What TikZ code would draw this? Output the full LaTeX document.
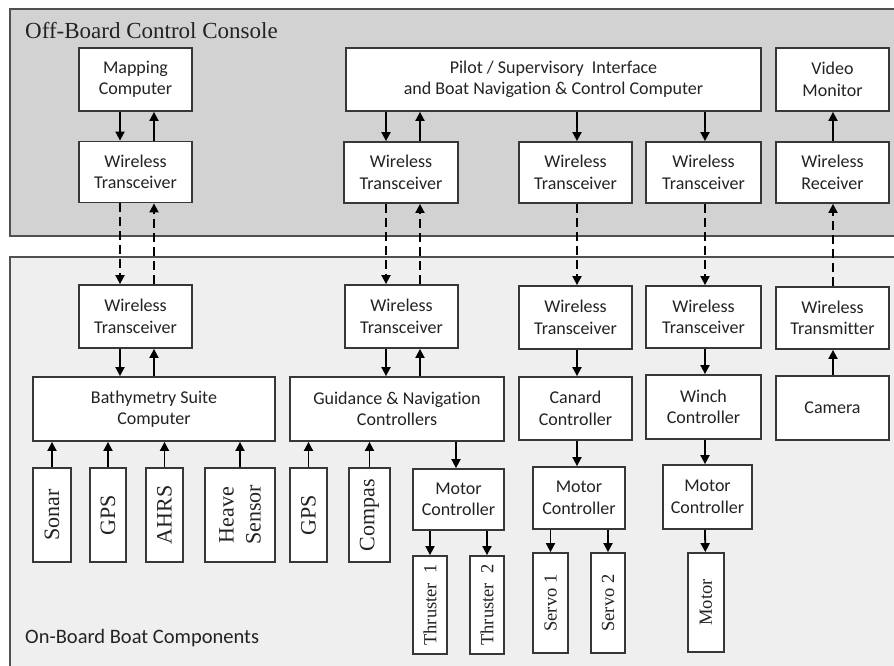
\documentclass[tikz,border=0pt]{standalone}
\usepackage{fontspec}
\setmainfont{Carlito}[Ligatures=CommonOff]
\newfontfamily\serifface{Liberation Serif}
\usetikzlibrary{arrows.meta}
\definecolor{topfill}{RGB}{210,210,210}
\definecolor{botfill}{RGB}{239,239,239}
\definecolor{framec}{RGB}{80,80,80}
\definecolor{boxc}{RGB}{55,55,55}
\definecolor{txtc}{RGB}{35,35,35}
\tikzset{
 box/.style={draw=boxc, line width=1.8pt, fill=white, text=txtc, align=center, inner sep=0pt, font=\fontsize{18}{21.5}\selectfont},
 vbox/.style={draw=boxc, line width=1.8pt, fill=white, text=txtc, align=center, inner sep=0pt, rotate=90, font=\serifface\fontsize{22}{27}\selectfont},
 vboxs/.style={vbox, font=\serifface\fontsize{18.5}{22}\selectfont},
 arr/.style={line width=1.8pt, draw=black, -{Triangle[length=9pt,width=9pt]}},
 darr/.style={arr, dash pattern=on 9pt off 5pt},
 frame/.style={draw=framec, line width=2.2pt},
}
\begin{document}
\begin{tikzpicture}[x=1pt,y=-1pt]
\clip (0,0) rectangle (894,665);
\fill[white] (0,0) rectangle (894,665);
\draw[frame, fill=topfill] (10,9) rectangle (910,236);
\draw[frame, fill=botfill] (10,257) rectangle (910,690);
\node[anchor=base west, inner sep=0pt, text=txtc, font=\serifface\fontsize{23}{27}\selectfont] (ttop) at (25,38) {Off-Board Control Console};
\node[anchor=base west, inner sep=0pt, text=txtc, font=\fontsize{20.5}{24}\selectfont] (tbot) at (25,643) {On-Board Boat Components};

% top row
\node[box, minimum width=113pt, minimum height=63pt] (map) at (135.5,79.5) {Mapping\\Computer};
\node[box, minimum width=113pt, minimum height=61pt] (wt1t) at (135.5,172) {Wireless\\Transceiver};
\node[box, minimum width=415pt, minimum height=63pt] (pilot) at (553.5,79.5) {Pilot / Supervisory\ \ Interface\\and Boat Navigation \& Control Computer};
\node[box, minimum width=114pt, minimum height=61pt] (wt2t) at (401,172.5) {Wireless\\Transceiver};
\node[box, minimum width=113pt, minimum height=61pt] (wt3t) at (575.5,172.5) {Wireless\\Transceiver};
\node[box, minimum width=115pt, minimum height=61pt] (wt4t) at (703.5,172.5) {Wireless\\Transceiver};
\node[box, minimum width=113pt, minimum height=63pt] (video) at (832.5,79.5) {Video\\Monitor};
\node[box, minimum width=113pt, minimum height=61pt] (rx) at (832.5,172.5) {Wireless\\Receiver};

% bottom
\node[box, minimum width=113pt, minimum height=63pt] (wt1b) at (135.5,316.5) {Wireless\\Transceiver};
\node[box, minimum width=113pt, minimum height=63pt] (wt2b) at (401.5,316.5) {Wireless\\Transceiver};
\node[box, minimum width=113pt, minimum height=63pt] (wt3b) at (575.5,317.5) {Wireless\\Transceiver};
\node[box, minimum width=115pt, minimum height=62pt] (wt4b) at (703.5,317) {Wireless\\Transceiver};
\node[box, minimum width=113pt, minimum height=62pt] (tx) at (832.5,318) {Wireless\\Transmitter};
\node[box, minimum width=242pt, minimum height=64pt] (bathy) at (154,409) {Bathymetry Suite\\Computer};
\node[box, minimum width=214pt, minimum height=64pt] (guid) at (397,409) {Guidance \& Navigation\\Controllers};
\node[box, minimum width=113pt, minimum height=63pt] (canard) at (575.5,408.5) {Canard\\Controller};
\node[box, minimum width=115pt, minimum height=64pt] (winch) at (703.5,407) {Winch\\Controller};
\node[box, minimum width=113pt, minimum height=64pt] (camera) at (832.5,408) {Camera};

% sensors
\node[vbox, minimum width=94pt, minimum height=38pt] (sonar) at (52,515) {Sonar};
\node[vbox, minimum width=94pt, minimum height=36pt] (gps1) at (108,515) {GPS};
\node[vbox, minimum width=94pt, minimum height=37pt] (ahrs) at (164.5,515) {AHRS};
\node[vbox, minimum width=94pt, minimum height=70pt] (heave) at (240,515) {Heave\\Sensor};
\node[vbox, minimum width=94pt, minimum height=37pt] (gps2) at (308.5,515) {GPS};
\node[vbox, minimum width=94pt, minimum height=41pt] (compas) at (369.5,515) {Compas};

% motor controllers and actuators
\node[box, minimum width=91pt, minimum height=61pt] (mc1) at (458.5,499.5) {Motor\\Controller};
\node[vboxs, minimum width=98pt, minimum height=34pt] (th1) at (430,605) {Thruster\ \ 1};
\node[vboxs, minimum width=98pt, minimum height=34pt] (th2) at (487,605) {Thruster\ \ 2};
\node[box, minimum width=92pt, minimum height=62pt] (mc2) at (579,498) {Motor\\Controller};
\node[vboxs, minimum width=100pt, minimum height=35pt] (sv1) at (550.5,603) {Servo 1};
\node[vboxs, minimum width=100pt, minimum height=34pt] (sv2) at (608,603) {Servo 2};
\node[box, minimum width=89pt, minimum height=64pt] (mc3) at (707.5,497) {Motor\\Controller};
\node[vboxs, minimum width=99pt, minimum height=36pt] (motor) at (706,602.5) {Motor};

% columns
\coordinate (c120) at (120,0);
\coordinate (c154) at (154,0);
\coordinate (c386) at (386,0);
\coordinate (c420) at (420,0);
\coordinate (c577) at (577,0);
\coordinate (c705) at (705,0);
\coordinate (c833) at (833,0);
\coordinate (c456) at (456,0);

% column 1
\draw[arr] (map.south -| c120) -- (wt1t.north -| c120);
\draw[arr] (wt1t.north -| c154) -- (map.south -| c154);
\draw[darr] (wt1t.south -| c120) -- (wt1b.north -| c120);
\draw[darr] (wt1b.north -| c154) -- (wt1t.south -| c154);
\draw[arr] (wt1b.south -| c120) -- (bathy.north -| c120);
\draw[arr] (bathy.north -| c154) -- (wt1b.south -| c154);
% column 2
\draw[arr] (pilot.south -| c386) -- (wt2t.north -| c386);
\draw[arr] (wt2t.north -| c420) -- (pilot.south -| c420);
\draw[darr] (wt2t.south -| c386) -- (wt2b.north -| c386);
\draw[darr] (wt2b.north -| c420) -- (wt2t.south -| c420);
\draw[arr] (wt2b.south -| c386) -- (guid.north -| c386);
\draw[arr] (guid.north -| c420) -- (wt2b.south -| c420);
% column 3
\draw[arr] (pilot.south -| c577) -- (wt3t.north -| c577);
\draw[darr] (wt3t.south -| c577) -- (wt3b.north -| c577);
\draw[arr] (wt3b.south -| c577) -- (canard.north -| c577);
\draw[arr] (canard.south -| c577) -- (mc2.north -| c577);
% column 4
\draw[arr] (pilot.south -| c705) -- (wt4t.north -| c705);
\draw[darr] (wt4t.south -| c705) -- (wt4b.north -| c705);
\draw[arr] (wt4b.south -| c705) -- (winch.north -| c705);
\draw[arr] (winch.south -| c705) -- (mc3.north -| c705);
\draw[arr] (mc3.south -| c705) -- (motor);
% column 5
\draw[arr] (rx.north -| c833) -- (video.south -| c833);
\draw[darr] (tx.north -| c833) -- (rx.south -| c833);
\draw[arr] (camera.north -| c833) -- (tx.south -| c833);
% sensors
\draw[arr] (sonar) -- (sonar |- bathy.south);
\draw[arr] (gps1) -- (gps1 |- bathy.south);
\draw[arr] (ahrs) -- (ahrs |- bathy.south);
\draw[arr] (heave) -- (heave |- bathy.south);
\draw[arr] (gps2) -- (gps2 |- guid.south);
\draw[arr] (compas) -- (compas |- guid.south);
% actuators
\draw[arr] (guid.south -| c456) -- (mc1.north -| c456);
\draw[arr] (mc1.south -| th1) -- (th1);
\draw[arr] (mc1.south -| th2) -- (th2);
\draw[arr] (mc2.south -| sv1) -- (sv1);
\draw[arr] (mc2.south -| sv2) -- (sv2);
\end{tikzpicture}
\end{document}
